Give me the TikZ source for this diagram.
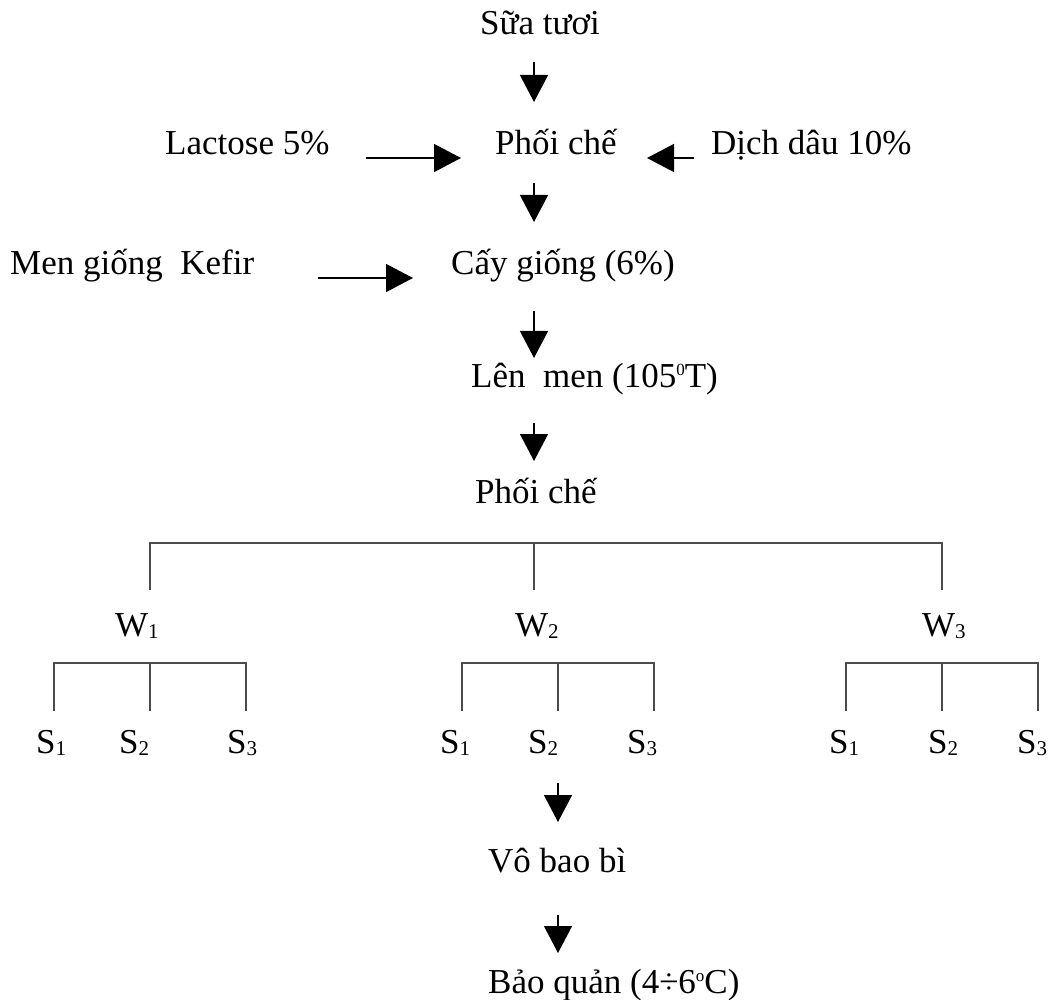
\documentclass[tikz,border=0pt]{standalone}
\usepackage{fontspec}
\setmainfont{Liberation Serif}
\usetikzlibrary{arrows.meta}
\newcommand\subidx[1]{\raisebox{-2.5pt}{\fontsize{21}{21}\selectfont #1}}
\newcommand\supidx[1]{\raisebox{12pt}{\fontsize{17}{17}\selectfont #1}}
\begin{document}
\begin{tikzpicture}[x=1pt,y=-1pt,
  lbl/.style={anchor=base west,inner sep=0pt,font=\fontsize{35}{40}\selectfont},
  flow/.style={line width=1.3pt,-{Triangle[length=27pt,width=28pt]}},
  tree/.style={line width=1.2pt,draw=black!70}]
\useasboundingbox (0,0) rectangle (1055,1000);
% text nodes
\node[lbl] (sua) at (480,35) {Sữa tươi};
\node[lbl] (pc1) at (495,155) {Phối chế};
\node[lbl] (lac) at (165,155) {Lactose 5\%};
\node[lbl] (dich) at (711,155) {Dịch dâu 10\%};
\node[lbl] (men) at (10,275) {Men giống\enspace Kefir};
\node[lbl] (cay) at (451,275) {Cấy giống (6\%)};
\node[lbl] (len) at (471,387) {Lên\enspace men (105\supidx{0}T)};
\node[lbl] (pc2) at (475,503) {Phối chế};
\node[lbl] (w1) at (115,636) {W\subidx{1}};
\node[lbl] (w2) at (515,636) {W\subidx{2}};
\node[lbl] (w3) at (922,636) {W\subidx{3}};
\node[lbl] (s11) at (36,753) {S\subidx{1}};
\node[lbl] (s12) at (119,753) {S\subidx{2}};
\node[lbl] (s13) at (227,753) {S\subidx{3}};
\node[lbl] (s21) at (440,753) {S\subidx{1}};
\node[lbl] (s22) at (528,753) {S\subidx{2}};
\node[lbl] (s23) at (627,753) {S\subidx{3}};
\node[lbl] (s31) at (829,753) {S\subidx{1}};
\node[lbl] (s32) at (928,753) {S\subidx{2}};
\node[lbl] (s33) at (1017,753) {S\subidx{3}};
\node[lbl] (vo) at (488,872) {Vô bao bì};
\node[lbl] (bq) at (488,993) {Bảo quản (4÷6\supidx{o}C)};
% arrow end points
\coordinate (a1s) at (534,62);  \coordinate (a1e) at (534,102);
\coordinate (a2s) at (534,183); \coordinate (a2e) at (534,222);
\coordinate (a3s) at (534,311); \coordinate (a3e) at (534,358);
\coordinate (a4s) at (534,423); \coordinate (a4e) at (534,461);
\coordinate (a5s) at (558,783); \coordinate (a5e) at (558,822);
\coordinate (a6s) at (558,915); \coordinate (a6e) at (558,953);
\coordinate (lacs) at (366,158); \coordinate (lace) at (461,158);
\coordinate (dics) at (694,158); \coordinate (dice) at (647,158);
\coordinate (kefs) at (318,278); \coordinate (kefe) at (413,278);
\draw[flow] (a1s) -- (a1e);
\draw[flow] (a2s) -- (a2e);
\draw[flow] (a3s) -- (a3e);
\draw[flow] (a4s) -- (a4e);
\draw[flow] (a5s) -- (a5e);
\draw[flow] (a6s) -- (a6e);
\draw[flow] (lacs) -- (lace);
\draw[flow] (dics) -- (dice);
\draw[flow] (kefs) -- (kefe);
% tree
\coordinate (t1) at (150,543); \coordinate (t2) at (534,543); \coordinate (t3) at (942,543);
\draw[tree] (150,590) -- (t1) -- (t3) -- (942,590);
\draw[tree] (t2) -- (534,590);
\foreach \c in {150,558,942}{
  \draw[tree] (\c-96,711) -- (\c-96,663) -- (\c+96,663) -- (\c+96,711);
  \draw[tree] (\c,663) -- (\c,711);
}
\end{tikzpicture}
\end{document}
